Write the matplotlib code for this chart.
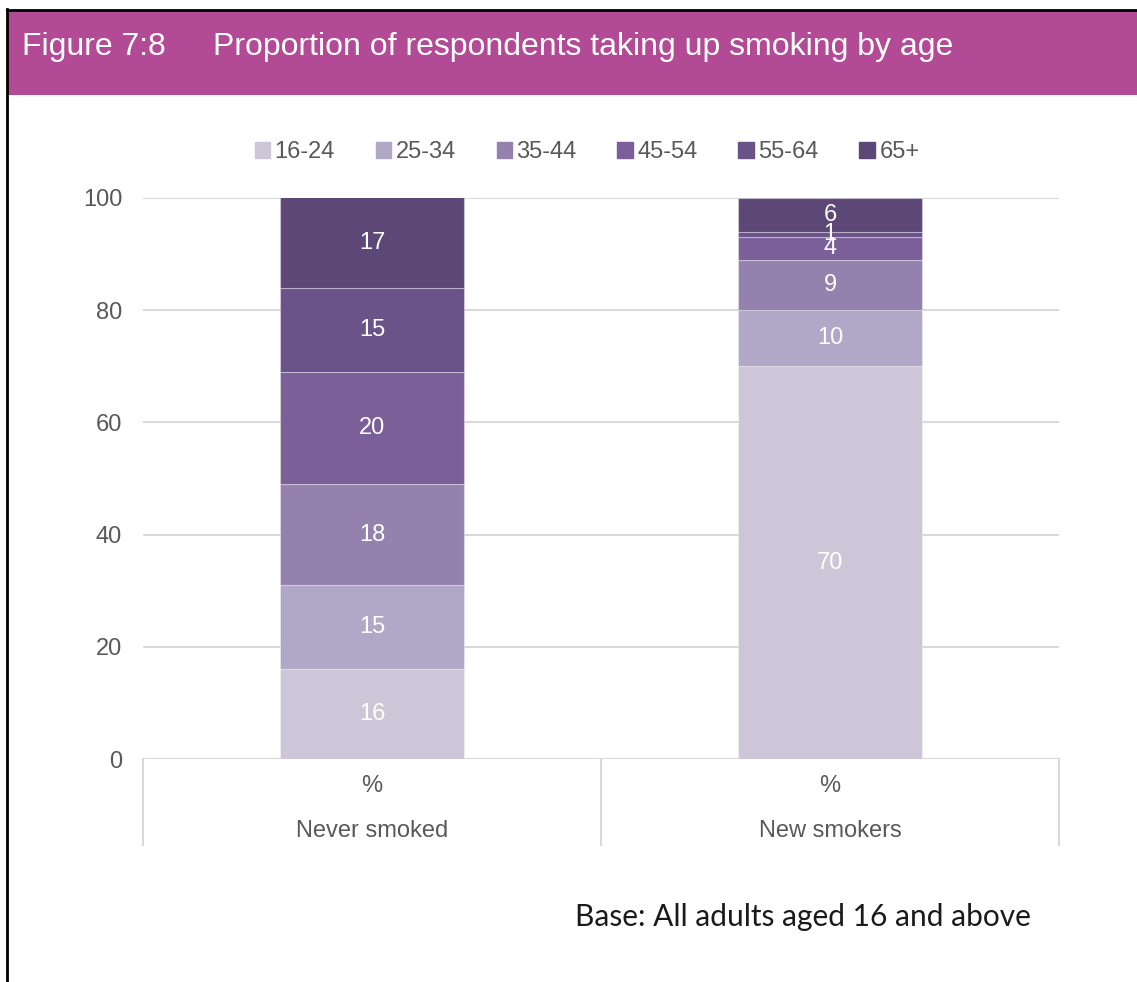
import numpy as np
import matplotlib
matplotlib.use('Agg')
import matplotlib.pyplot as plt
from matplotlib.patches import Rectangle
from matplotlib.lines import Line2D

plt.rcParams['font.family'] = ['Liberation Sans', 'DejaVu Sans']

# data
groups = ['Never smoked', 'New smokers']
age_bands = ['16-24', '25-34', '35-44', '45-54', '55-64', '65+']
never_smoked = [16, 15, 18, 20, 15, 17]
new_smokers = [70, 10, 9, 4, 1, 6]
y_ticks = [0, 20, 40, 60, 80, 100]

colours = ['#CDC6D8', '#B1A7C6', '#9481AE', '#7B5F99', '#6A5389', '#5D4777']
grey_text = '#595959'
grid_col = '#D9D9D9'

W, H = 1137, 982
fig = plt.figure(figsize=(W / 100, H / 100), dpi=100)

# header band and frame
fig.add_artist(Rectangle((8 / W, 1 - 95 / H), 1, 84 / H, transform=fig.transFigure,
                         facecolor='#B34A96', edgecolor='none'))
fig.add_artist(Line2D([7 / W, 7 / W], [0, 1 - 9 / H], transform=fig.transFigure,
                      color='black', lw=2))
fig.add_artist(Line2D([7 / W, 1], [1 - 10 / H, 1 - 10 / H], transform=fig.transFigure,
                      color='black', lw=2))
fig.text(22 / W, 1 - 47 / H, 'Figure 7:8', color='white', fontsize=23, va='center')
fig.text(213 / W, 1 - 47 / H, 'Proportion of respondents taking up smoking by age',
         color='white', fontsize=23, va='center')

ax = fig.add_axes([143 / W, 1 - 759 / H, 916 / W, 561 / H])

values = np.array([never_smoked, new_smokers])
x = np.arange(len(groups))
bottoms = np.zeros(len(groups))
for i, band in enumerate(age_bands):
    vals = values[:, i]
    ax.bar(x, vals, width=0.4, bottom=bottoms, color=colours[i],
           edgecolor=(1, 1, 1, 0.35), linewidth=0.8, label=band, zorder=3)
    for xi, v, b in zip(x, vals, bottoms):
        # keep the label inside the visible part of the bar
        mid = (b + min(b + v, 100)) / 2
        ax.text(xi, mid, str(v), ha='center', va='center',
                color='white', fontsize=17, zorder=4)
    bottoms += vals

ax.set_xlim(-0.5, 1.5)
ax.set_ylim(0, 100)
ax.set_yticks(y_ticks)
ax.tick_params(axis='y', length=0, pad=15, labelsize=17, labelcolor=grey_text)
ax.set_xticks([])
for s in ax.spines.values():
    s.set_visible(False)
ax.yaxis.grid(True, color=grid_col, lw=1.5, zorder=0)

# category box below the plot
xt = ax.get_xaxis_transform()
for xv in [-0.5, 0.5, 1.5]:
    ax.plot([xv, xv], [0, -86 / 561], transform=xt, color=grid_col, lw=1.5, clip_on=False)
for xi, g in zip(x, groups):
    ax.text(xi, -27 / 561, '%', transform=xt, ha='center', va='center',
            color=grey_text, fontsize=17)
    ax.text(xi, -72 / 561, g, transform=xt, ha='center', va='center',
            color=grey_text, fontsize=17)

handles = [Rectangle((0, 0), 1, 1, color=c) for c in colours]
leg = fig.legend(handles, age_bands, loc='center', bbox_to_anchor=(587 / W, 1 - 152 / H),
                 ncol=6, frameon=False, fontsize=17, handlelength=0.64, handleheight=0.64,
                 handletextpad=0.2, columnspacing=1.73, borderpad=0)
for t in leg.get_texts():
    t.set_color(grey_text)

fig.text(575 / W, 1 - 917 / H, 'Base: All adults aged 16 and above',
         fontsize=21.5, family=['Lato', 'DejaVu Sans'], color='#1A1A1A', va='center')

fig.savefig('out.png', dpi=100, facecolor='white')
